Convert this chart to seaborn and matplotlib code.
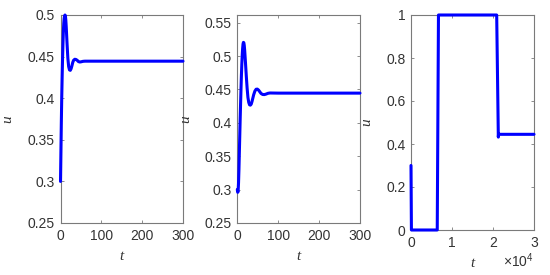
import matplotlib
matplotlib.use("Agg")
import matplotlib.pyplot as plt
import seaborn as sns
import pandas as pd

# ---- data ----
t1 = [0, 1, 2, 3, 4, 5, 6, 7, 8, 9, 10, 11, 12, 13, 14, 15, 16, 18, 20, 22, 24, 26, 28,
      30, 32, 35, 38, 41, 44, 47, 50, 55, 60, 70, 80, 100, 300]
u1 = [0.300, 0.335, 0.37, 0.40, 0.425, 0.447, 0.465, 0.48, 0.49, 0.496, 0.499, 0.5, 0.499,
      0.494, 0.486, 0.476, 0.466, 0.448, 0.438, 0.434, 0.4335, 0.4355, 0.439, 0.443, 0.4455,
      0.4468, 0.4465, 0.4455, 0.444, 0.4435, 0.4437, 0.4443, 0.4445, 0.4445, 0.4445, 0.4445,
      0.4445]

t2 = [0, 1, 2, 3, 4, 5, 6, 7, 8, 9, 10, 11, 12, 13, 14, 15, 16, 17, 18, 20, 22, 24, 26, 28,
      30, 32, 34, 36, 38, 40, 43, 46, 49, 52, 55, 58, 62, 66, 70, 75, 80, 90, 100, 300]
u2 = [0.300, 0.296, 0.297, 0.31, 0.33, 0.355, 0.38, 0.405, 0.428, 0.45, 0.47, 0.487, 0.501,
      0.511, 0.518, 0.5205, 0.52, 0.516, 0.509, 0.49, 0.47, 0.452, 0.438, 0.4305, 0.427,
      0.4265, 0.428, 0.432, 0.437, 0.442, 0.4475, 0.4503, 0.4505, 0.449, 0.4465, 0.444,
      0.4425, 0.4423, 0.443, 0.4442, 0.4447, 0.4446, 0.4445, 0.4445]

t3 = [0, 100, 6400, 6700, 20900, 21300, 21350, 30000]
u3 = [0.3, 0.0, 0.0, 1.0, 1.0, 0.432, 0.445, 0.445]

yticks1 = [0.25, 0.3, 0.35, 0.4, 0.45, 0.5]
yticks2 = [0.25, 0.3, 0.35, 0.4, 0.45, 0.5, 0.55]
yticks3 = [0, 0.2, 0.4, 0.6, 0.8, 1]
xticks12 = [0, 100, 200, 300]
xticks3 = [0, 10000, 20000, 30000]
xticklabels3 = ["0", "1", "2", "3"]

# ---- style ----
sns.set_theme(style="white")
plt.rcParams["font.family"] = ["Liberation Sans", "DejaVu Sans"]
plt.rcParams["mathtext.fontset"] = "custom"
plt.rcParams["mathtext.rm"] = "Liberation Sans"

fig = plt.figure(figsize=(5.5, 2.75), dpi=100)
W, H = 550, 275

def add_axes(l, r, t, b):
    return fig.add_axes([l / W, 1 - b / H, (r - l) / W, (b - t) / H])

ax1 = add_axes(60.5, 183, 15, 223)
ax2 = add_axes(237.3, 360, 15, 223)
ax3 = add_axes(411, 534, 15, 230)

spine_c = "#7a7a7a"
lab_c = "#333333"
line_c = (0, 0, 1)

def fmt(v):
    return "%g" % v

for ax, t, u, xt, xl, yt, xlim, ylim in [
    (ax1, t1, u1, xticks12, [str(v) for v in xticks12], yticks1, (0, 300), (0.25, 0.5)),
    (ax2, t2, u2, xticks12, [str(v) for v in xticks12], yticks2, (0, 300), (0.25, 0.5615)),
    (ax3, t3, u3, xticks3, xticklabels3, yticks3, (0, 30000), (0, 1)),
]:
    df = pd.DataFrame({"t": t, "u": u})
    sns.lineplot(data=df, x="t", y="u", ax=ax, color=line_c, linewidth=2.2,
                 estimator=None, sort=False, clip_on=False)
    ax.set_xlim(*xlim)
    ax.set_ylim(*ylim)
    ax.set_xticks(xt)
    ax.set_xticklabels(xl)
    ax.set_yticks(yt)
    ax.set_yticklabels([fmt(v) for v in yt])
    ax.tick_params(direction="in", length=2.5, width=0.6, color=spine_c,
                   top=True, right=True, bottom=True, left=True,
                   labelsize=10, labelcolor=lab_c, pad=4)
    for s in ax.spines.values():
        s.set_color(spine_c)
        s.set_linewidth(0.8)
        s.set_zorder(0.5)
    ax.set_xlabel("t", fontsize=11, family="Liberation Serif", style="italic", color=lab_c)
    ax.set_ylabel("u", fontsize=11, family="Liberation Serif", style="italic", color=lab_c)

ax1.xaxis.set_label_coords(0.5, -27 / 208)
ax2.xaxis.set_label_coords(0.5, -27 / 208)
ax3.xaxis.set_label_coords(0.5, -27 / 215)
ax1.yaxis.set_label_coords(-0.38, 0.5)
ax2.yaxis.set_label_coords(-0.366, 0.5)
ax3.yaxis.set_label_coords(-0.311, 0.5)

fig.text(503 / W, 1 - 261 / H, r"$\times\mathregular{10^{4}}$", fontsize=10,
         color=lab_c, ha="left", va="center")

fig.savefig("out.png", dpi=100, facecolor="white")
